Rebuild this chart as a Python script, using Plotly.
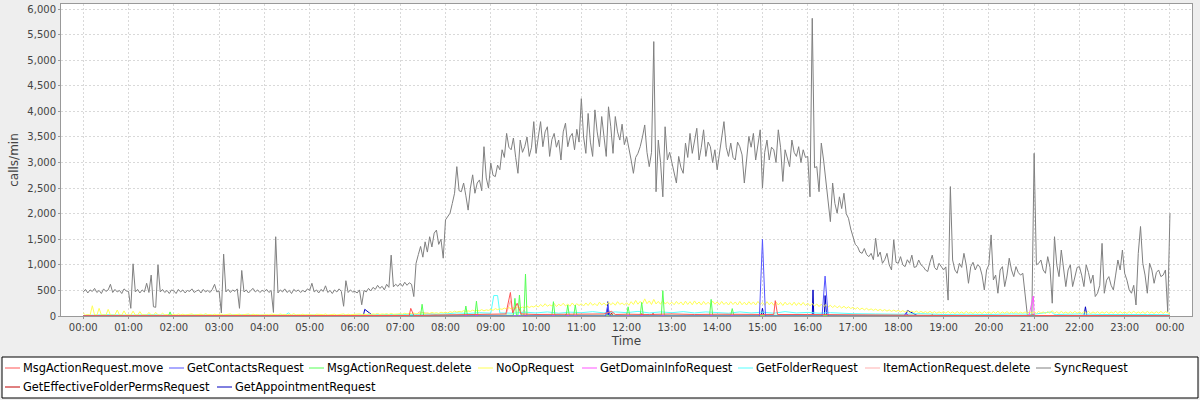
import plotly.graph_objects as go
import pandas as pd

# ---------------- data ----------------
BASE = pd.Timestamp("2013-01-01")

series_names = [
    "MsgActionRequest.move", "GetContactsRequest", "MsgActionRequest.delete",
    "NoOpRequest", "GetDomainInfoRequest", "GetFolderRequest",
    "ItemActionRequest.delete", "SyncRequest",
    "GetEffectiveFolderPermsRequest", "GetAppointmentRequest",
]
series_colors = [
    "#FF5555", "#5555FF", "#55FF55", "#FFFF55", "#FF55FF", "#55FFFF",
    "#FFAFAF", "#808080", "#C00000", "#0000C0",
]

# SyncRequest, one value every 3 minutes from 00:00 to 24:00 (20 per hour)
sync_requests = [
    470, 520, 450, 510, 480, 540, 460, 500, 440, 530, 480, 510, 620, 460, 520, 470, 500, 440, 530, 490,
    480, 150, 1020, 470, 520, 450, 510, 470, 640, 460, 800, 180, 170, 1000, 470, 520, 460, 500, 440, 510,
    490, 440, 520, 470, 510, 450, 500, 480, 530, 460, 490, 510, 450, 520, 470, 500, 460, 520, 620, 470,
    490, 60, 1210, 470, 520, 460, 510, 480, 530, 150, 890, 470, 510, 450, 500, 540, 470, 510, 460, 500,
    480, 520, 460, 500, 70, 1550, 450, 510, 470, 530, 460, 500, 440, 520, 480, 510, 460, 500, 470, 530,
    500, 640, 470, 510, 450, 520, 480, 590, 460, 500, 440, 510, 470, 530, 480, 190, 690, 460, 510, 470,
    480, 450, 510, 220, 500, 470, 540, 490, 560, 520, 600, 540, 580, 510, 620, 560, 1190, 570, 620, 580,
    640, 580, 660, 600, 650, 620, 380, 1030, 1200, 1360, 1150, 1450, 1250, 1550, 1350, 1620, 1680, 1400, 1500, 1130,
    1880, 1950, 2010, 2200, 2400, 2920, 2450, 2430, 2600, 2350, 2070, 2500, 2760, 2400, 2600, 2660, 2450, 3310, 2700, 2500,
    2990, 2750, 2725, 2950, 2860, 3250, 3100, 3570, 3300, 3250, 3480, 3100, 2790, 3440, 3200, 3310, 3500, 3120, 3300, 3800,
    3180, 3500, 3800, 3310, 3600, 3700, 3120, 3450, 3570, 3300, 3440, 3050, 3600, 3770, 3310, 3500, 3570, 3250, 3650, 3400,
    4250, 3500, 3180, 3960, 3400, 3120, 4030, 3600, 3310, 3900, 3550, 3120, 4090, 3700, 3180, 3900, 3600, 3440, 3750, 3350,
    3510, 3300, 3050, 2790, 3100, 3180, 3310, 3500, 3735, 3200, 2920, 3200, 5365, 2430, 3440, 3000, 2330, 3700, 3050, 3200,
    2990, 2800, 2600, 3120, 2900, 2790, 3380, 3100, 3570, 3180, 3400, 3670, 3050, 3300, 3640, 3120, 3400, 3310, 3000, 3250,
    2860, 3200, 3440, 3800, 3300, 3120, 3380, 3100, 3050, 3400, 3310, 3150, 2600, 3100, 3510, 3300, 3570, 3050, 3400, 3640,
    2500, 3200, 3440, 3050, 3300, 3250, 3000, 3640, 3300, 2630, 3250, 3100, 2920, 3440, 3200, 3120, 3310, 3000, 3250, 3100,
    3120, 2330, 5820, 2900, 2920, 2430, 3380, 3050, 2660, 2300, 1845, 2600, 2200, 2010, 2330, 2100, 2400, 2000, 1910, 1700,
    1520, 1400, 1356, 1250, 1225, 1320, 1200, 1160, 1225, 1100, 1520, 1160, 1250, 1030, 1100, 1225, 1000, 900, 1490, 1050,
    1030, 1160, 1000, 965, 1100, 1030, 1190, 950, 965, 1095, 1000, 965, 900, 870, 1050, 1190, 950, 900, 1030, 960,
    900, 960, 310, 2530, 1095, 900, 835, 1030, 950, 1225, 1000, 640, 965, 1050, 900, 1000, 965, 800, 510, 900,
    1000, 1585, 705, 800, 445, 900, 965, 575, 800, 1130, 900, 770, 965, 850, 800, 835, 400, 20, 20, 20,
    3180, 1000, 1030, 1095, 900, 835, 1160, 950, 250, 1550, 1000, 770, 1290, 900, 575, 900, 1000, 575, 800, 950,
    965, 800, 575, 1000, 850, 640, 800, 380, 445, 600, 1420, 445, 700, 770, 600, 510, 800, 1095, 900, 1290,
    835, 700, 510, 445, 600, 215, 1225, 1750, 1030, 800, 445, 1030, 900, 640, 850, 900, 770, 800, 900, 85,
    2010,
]

# NoOpRequest, one value every 3 minutes from 00:00 to 24:00 (20 per hour)
noop_requests = [
    60, 20, 30, 15, 200, 20, 15, 150, 20, 25, 15, 130, 20, 15, 25, 117, 20, 15, 100, 20,
    25, 15, 95, 20, 15, 85, 20, 25, 15, 70, 20, 15, 70, 25, 15, 55, 20, 30, 15, 25,
    30, 20, 40, 25, 35, 20, 30, 25, 40, 20, 30, 25, 35, 20, 45, 25, 30, 20, 35, 25,
    25, 35, 20, 30, 25, 40, 20, 30, 25, 35, 20, 30, 25, 40, 20, 35, 25, 30, 20, 30,
    25, 30, 20, 35, 25, 30, 20, 40, 25, 30, 20, 35, 25, 45, 20, 30, 25, 35, 20, 30,
    25, 30, 20, 35, 25, 30, 25, 40, 20, 30, 25, 35, 20, 30, 25, 40, 20, 35, 25, 30,
    30, 25, 40, 30, 35, 25, 45, 30, 40, 35, 50, 30, 40, 35, 45, 30, 50, 35, 45, 40,
    45, 35, 55, 40, 50, 45, 60, 40, 55, 50, 65, 45, 60, 50, 70, 55, 65, 50, 75, 60,
    75, 60, 85, 70, 95, 75, 90, 80, 105, 85, 100, 90, 115, 95, 110, 100, 125, 100, 120, 110,
    130, 110, 145, 125, 140, 130, 155, 135, 165, 140, 160, 150, 180, 155, 175, 160, 195, 165, 190, 175,
    205, 175, 225, 185, 240, 190, 220, 195, 245, 185, 230, 200, 250, 195, 235, 190, 255, 200, 240, 205,
    240, 195, 255, 205, 265, 210, 245, 200, 270, 215, 255, 205, 275, 220, 260, 210, 280, 225, 255, 215,
    260, 210, 280, 225, 305, 230, 285, 235, 335, 240, 295, 225, 325, 235, 285, 230, 305, 235, 270, 230,
    270, 220, 285, 230, 275, 215, 290, 225, 280, 220, 295, 230, 275, 215, 285, 225, 270, 220, 290, 230,
    275, 220, 285, 225, 270, 215, 280, 225, 275, 215, 285, 220, 270, 215, 280, 225, 275, 215, 285, 225,
    265, 210, 280, 220, 270, 210, 275, 215, 265, 205, 270, 215, 260, 210, 270, 205, 260, 210, 265, 205,
    250, 200, 245, 195, 235, 185, 230, 180, 220, 175, 210, 165, 205, 160, 195, 155, 190, 150, 180, 145,
    170, 135, 165, 125, 155, 120, 150, 115, 140, 110, 135, 105, 130, 100, 125, 95, 120, 90, 115, 90,
    110, 80, 105, 75, 100, 75, 95, 70, 95, 65, 90, 65, 85, 60, 90, 60, 85, 55, 80, 60,
    85, 55, 90, 55, 80, 50, 85, 55, 80, 50, 90, 55, 75, 50, 85, 55, 80, 50, 85, 55,
    80, 50, 85, 55, 90, 50, 80, 55, 85, 50, 80, 55, 85, 50, 75, 55, 80, 50, 85, 55,
    85, 50, 90, 55, 80, 50, 85, 55, 105, 55, 85, 50, 90, 55, 80, 50, 85, 55, 90, 55,
    80, 50, 85, 55, 90, 50, 80, 55, 85, 50, 80, 55, 85, 50, 80, 55, 90, 50, 85, 55,
    80, 50, 85, 55, 95, 50, 80, 55, 85, 50, 90, 55, 80, 50, 85, 55, 90, 50, 85, 55,
    40,
]

# smaller series: minute of day and value
folder_min = [0, 30, 60, 90, 120, 150, 180, 210, 240, 268, 272, 276, 300, 330, 360, 390,
              420, 450, 480, 495, 510, 525, 540, 544, 549, 552, 570, 585, 600, 615, 630,
              645, 660, 675, 690, 705, 720, 735, 750, 765, 780, 795, 810, 825, 840, 855,
              870, 885, 900, 915, 930, 945, 960, 975, 990, 1005, 1020, 1050, 1080, 1110,
              1140, 1170, 1200, 1230, 1260, 1283, 1286, 1290, 1320, 1350, 1380, 1410, 1440]
folder_val = [10, 25, 15, 25, 12, 22, 15, 25, 15, 20, 60, 15, 20, 12, 20, 25,
              30, 45, 40, 60, 50, 65, 55, 400, 400, 60, 55, 75, 60, 80, 55,
              75, 65, 85, 60, 80, 65, 90, 60, 80, 65, 85, 60, 80, 70, 55,
              80, 60, 75, 55, 85, 60, 70, 55, 65, 50, 45, 40, 35, 45,
              30, 35, 30, 40, 35, 80, 35, 30, 40, 30, 35, 30, 25]

move_min = [0, 60, 120, 180, 240, 300, 360, 420, 432, 434, 438, 480, 510, 540, 560, 566,
            569, 575, 580, 600, 630, 660, 690, 700, 705, 720, 750, 780, 810, 840, 900,
            915, 917, 920, 960, 1020, 1080, 1140, 1200, 1255, 1258, 1262, 1320, 1380, 1440]
move_val = [5, 5, 5, 5, 5, 5, 5, 10, 10, 150, 10, 20, 25, 30, 40, 460,
            60, 250, 40, 30, 35, 30, 40, 90, 30, 35, 30, 40, 30, 35, 30,
            30, 300, 30, 30, 20, 15, 10, 10, 10, 30, 10, 10, 10, 5]

delete_min = [0, 113, 115, 117, 400, 447, 449, 451, 505, 507, 509, 519, 521, 523, 570,
              572, 574, 576, 578, 580, 584, 586, 588, 621, 623, 625, 640, 642, 644, 650,
              652, 654, 720, 722, 724, 738, 740, 742, 766, 768, 770, 830, 832, 834,
              858, 860, 862, 900, 1000, 1100, 1200, 1300, 1440]
delete_val = [5, 5, 80, 5, 10, 10, 230, 10, 15, 195, 15, 15, 290, 15, 15,
              345, 15, 15, 410, 15, 15, 820, 15, 15, 280, 15, 15, 215, 15, 15,
              215, 15, 15, 180, 15, 15, 265, 15, 15, 495, 15, 15, 325, 15,
              15, 145, 15, 15, 10, 10, 8, 8, 5]

contacts_min = [0, 692, 695, 698, 896, 900, 904, 979, 983, 987, 1088, 1090, 1094, 1440]
contacts_val = [0, 0, 200, 0, 0, 1500, 0, 0, 780, 0, 0, 60, 0, 0]

appointment_min = [0, 371, 373, 384, 694, 695, 696, 898, 900, 902, 966, 967, 968,
                   982, 983, 985, 1090, 1092, 1105, 1326, 1328, 1330, 1440]
appointment_val = [0, 0, 130, 5, 0, 280, 0, 0, 150, 0, 0, 510, 0,
                   0, 400, 0, 0, 110, 10, 0, 180, 0, 0]

domain_min = [0, 600, 900, 1088, 1090, 1094, 1253, 1259, 1260, 1440]
domain_val = [3, 5, 5, 5, 50, 5, 3, 390, 5, 3]

item_delete_min = [0, 440, 445, 470, 560, 566, 570, 580, 584, 588, 900, 1440]
item_delete_val = [3, 3, 80, 20, 10, 300, 10, 10, 120, 10, 5, 3]

perms_min = [0, 638, 640, 642, 698, 700, 702, 738, 740, 742, 753, 755, 757, 1123, 1125, 1127, 1440]
perms_val = [0, 0, 40, 0, 0, 60, 0, 0, 45, 0, 0, 50, 0, 0, 30, 0, 0]

# ---------------- helpers ----------------
def grid_times(n, step_min=3):
    return BASE + pd.to_timedelta([step_min * i for i in range(n)], unit="m")


def minute_times(mins):
    return BASE + pd.to_timedelta(mins, unit="m")


series_xy = {
    "MsgActionRequest.move": (minute_times(move_min), move_val),
    "GetContactsRequest": (minute_times(contacts_min), contacts_val),
    "MsgActionRequest.delete": (minute_times(delete_min), delete_val),
    "NoOpRequest": (grid_times(len(noop_requests)), noop_requests),
    "GetDomainInfoRequest": (minute_times(domain_min), domain_val),
    "GetFolderRequest": (minute_times(folder_min), folder_val),
    "ItemActionRequest.delete": (minute_times(item_delete_min), item_delete_val),
    "SyncRequest": (grid_times(len(sync_requests)), sync_requests),
    "GetEffectiveFolderPermsRequest": (minute_times(perms_min), perms_val),
    "GetAppointmentRequest": (minute_times(appointment_min), appointment_val),
}

fig = go.Figure()
# last series drawn first (reverse rendering order)
for name, color in reversed(list(zip(series_names, series_colors))):
    xs, ys = series_xy[name]
    fig.add_trace(go.Scatter(
        x=xs, y=ys, mode="lines", name=name,
        line=dict(color=color, width=1), showlegend=False,
    ))

# ---------------- layout ----------------
W, H = 1200, 400
L, R, T, B = 61, 8, 4, 84


def px_x(px):
    return (px - L) / (W - L - R)


def px_y(py):
    return (H - B - py) / (H - T - B)


FONT = "DejaVu Sans"
axis_common = dict(
    showline=True, linecolor="#999999", linewidth=1, mirror=True,
    ticks="outside", ticklen=2, tickcolor="#999999",
    showgrid=True, gridcolor="#D9D9D9", griddash="2px,2px", gridwidth=1,
    zeroline=False,
    tickfont=dict(family=FONT, size=10, color="#444444"),
)

fig.update_layout(
    width=W, height=H,
    margin=dict(l=L, r=R, t=T, b=B, autoexpand=False),
    paper_bgcolor="#EEEEEE", plot_bgcolor="#FFFFFF",
    xaxis=dict(
        axis_common,
        type="date",
        range=[BASE - pd.Timedelta(minutes=29.5), BASE + pd.Timedelta(hours=24, minutes=29.2)],
        dtick=3600000, tick0=BASE, tickformat="%H:%M",
        title=dict(text="Time", font=dict(family=FONT, size=12, color="#444444"), standoff=4),
    ),
    yaxis=dict(
        axis_common,
        range=[0, 6100], dtick=500, tickformat=",d",
        title=dict(text="calls/min", font=dict(family=FONT, size=12, color="#444444"), standoff=6),
    ),
    showlegend=False,
)

# ---------------- legend (drawn as a box below the plot) ----------------
fig.add_shape(type="rect", xref="paper", yref="paper",
              x0=px_x(2), x1=px_x(1198), y0=px_y(398), y1=px_y(357),
              line=dict(color="#000000", width=1), fillcolor="#FFFFFF", layer="above")

legend_starts = [5, 169, 309, 478, 582, 738, 865, 1036, 5, 217]
legend_rows = [368, 368, 368, 368, 368, 368, 368, 368, 387, 387]
for name, color, sx, ry in zip(series_names, series_colors, legend_starts, legend_rows):
    fig.add_shape(type="line", xref="paper", yref="paper",
                  x0=px_x(sx), x1=px_x(sx + 15), y0=px_y(ry), y1=px_y(ry),
                  line=dict(color=color, width=1), layer="above")
    fig.add_annotation(text=name, xref="paper", yref="paper",
                       x=px_x(sx + 16), y=px_y(ry), xanchor="left", yanchor="middle",
                       showarrow=False, font=dict(family=FONT, size=11.4, color="#000000"))

fig.write_html("out.html", config={"displayModeBar": False},
               post_script="document.body.style.margin='0';")
